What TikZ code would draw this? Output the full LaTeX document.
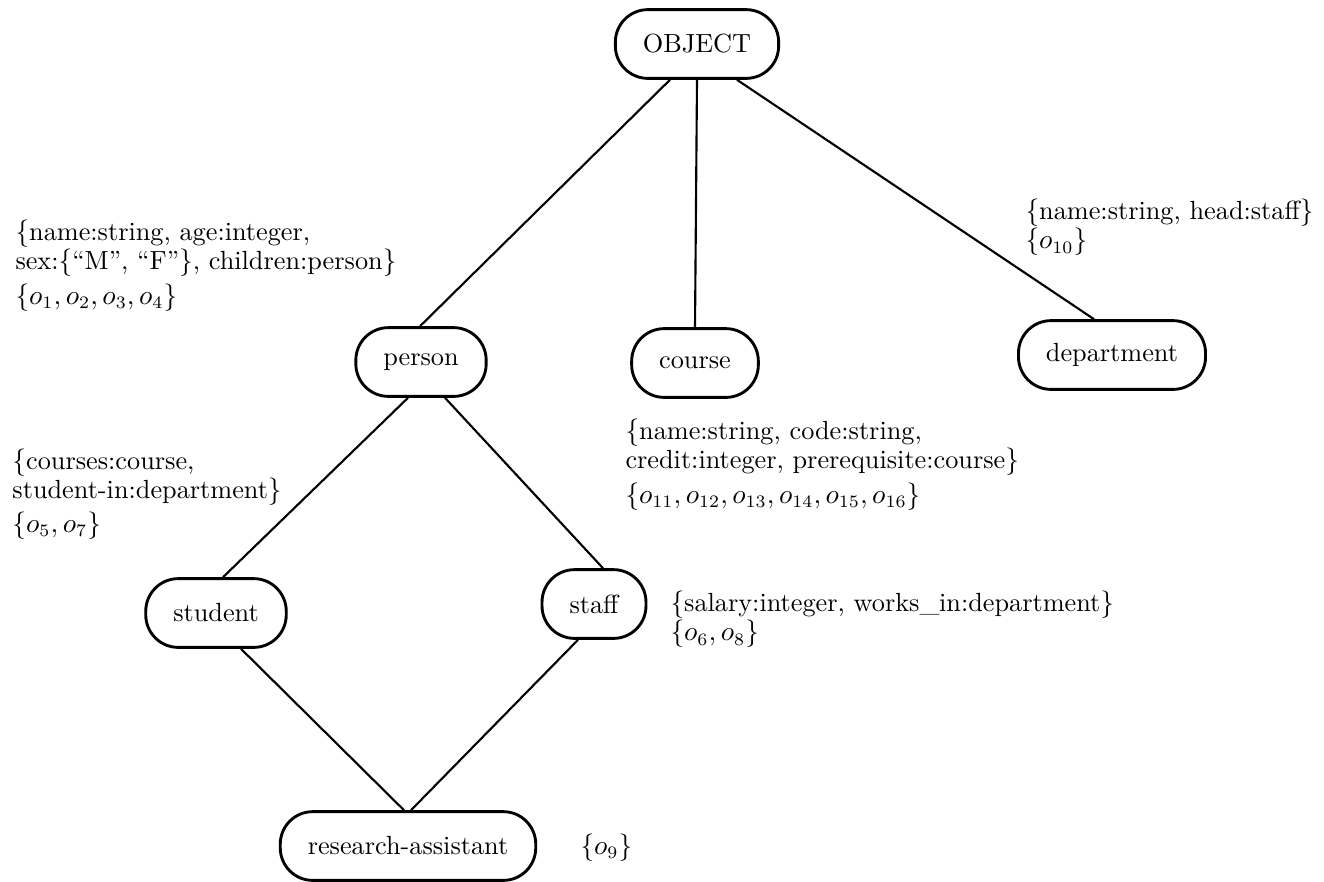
\documentclass[tikz,border=0pt]{standalone}
\usetikzlibrary{calc}
\begin{document}
\begin{tikzpicture}[x=0.4pt,y=-0.4pt,
  cls/.style={draw,line width=1.15pt,rounded corners=13pt,minimum height=27.5pt,inner xsep=11pt,font=\fontsize{10.5}{12}\selectfont},
  ann/.style={anchor=north west,inner sep=0pt,align=left,font=\fontsize{10.5}{10.8}\selectfont},
  link/.style={line width=0.85pt}]
\useasboundingbox (0,0) rectangle (1324,881);
% classes
\node[cls] (obj) at (697,44) {OBJECT};
\node[cls] (person) at (421,362) {person};
\node[cls] (course) at (695,363) {course};
\node[cls] (dept) at (1112,355) {department};
\node[cls] (student) at (216,613) {student};
\node[cls] (staff) at (594,604) {staff};
\node[cls] (ra) at (408,846) {research-assistant};
% links
\draw[link] ($(obj.south)+(-27,0)$) -- ($(person.north)+(-1,0)$);
\draw[link] (obj.south) -- (course.north);
\draw[link] ($(obj.south)+(40,0)$) -- ($(dept.north)+(-18,0)$);
\draw[link] ($(person.south)+(-13,0)$) -- ($(student.north)+(7,0)$);
\draw[link] ($(person.south)+(24,0)$) -- ($(staff.north)+(9,0)$);
\draw[link] ($(student.south)+(25,0)$) -- ($(ra.north)+(-4,0)$);
\draw[link] ($(staff.south)+(-16,0)$) -- ($(ra.north)+(3,0)$);
% annotations
\node[ann] (pa1) at (15,219) {$\{$name:string, age:integer,\\sex:$\{$“M”, “F”$\}$, children:person$\}$};
\node[ann] (pa3) at (15,283) {$\{o_1,o_2,o_3,o_4\}$};
\node[ann] (da1) at (1025,198) {$\{$name:string, head:staff$\}$\\$\{o_{10}\}$};
\node[ann] (ca1) at (625,418) {$\{$name:string, code:string,\\credit:integer, prerequisite:course$\}$};
\node[ann] (ca3) at (625,482) {$\{o_{11},o_{12},o_{13},o_{14},o_{15},o_{16}\}$};
\node[ann] (sa1) at (12,448) {$\{$courses:course,\\student-in:department$\}$};
\node[ann] (sa3) at (12,511) {$\{o_5,o_7\}$};
\node[ann] (ta1) at (670,590) {$\{$salary:integer, works\_in:department$\}$\\$\{o_6,o_8\}$};
\node[ann] (ra1) at (580,833) {$\{o_9\}$};
\end{tikzpicture}
\end{document}
